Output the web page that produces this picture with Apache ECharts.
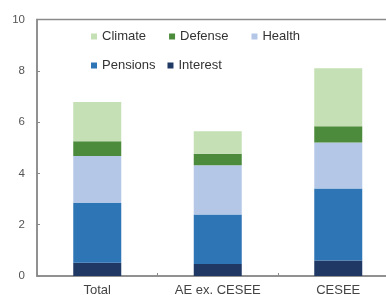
<!DOCTYPE html>
<html><head><meta charset="utf-8">
<script src="https://cdn.jsdelivr.net/npm/echarts@6/dist/echarts.min.js"></script>
<style>html,body{margin:0;padding:0;background:#fff}#c{width:386px;height:295px}</style>
</head><body><div id="c"></div>
<script>
const categories = ['Total', 'AE ex. CESEE', 'CESEE'];
const interest = [0.52, 0.47, 0.60];
const pensions = [2.33, 1.93, 2.81];
const health = [1.83, 1.92, 1.79];
const defense = [0.57, 0.45, 0.64];
const climate = [1.53, 0.87, 2.26];
const yTicks = [0, 2, 4, 6, 8, 10];

const chart = echarts.init(document.getElementById('c'));
const mk = (name, data, color) => ({name, type: 'bar', stack: 'a', data, barWidth: 48, itemStyle: {color}});
const lt = {fontSize: 13, color: '#333', fontFamily: 'Liberation Sans'};
chart.setOption({
  animation: false,
  grid: {left: 37, top: 19.5, bottom: 19, width: 361.5, outerBoundsMode: 'none', containLabel: false,
    show: true, borderColor: '#8a8a8a', borderWidth: 1.5},
  legend: [
    {data: ['Climate', 'Defense', 'Health'], left: 86, top: 25, itemWidth: 6, itemHeight: 6, itemGap: 23,
     icon: 'rect', textStyle: lt},
    {data: ['Pensions', 'Interest'], left: 86, top: 54, itemWidth: 6, itemHeight: 6, itemGap: 12,
     icon: 'rect', textStyle: lt}
  ],
  xAxis: {type: 'category', data: categories,
    axisLine: {lineStyle: {color: '#8a8a8a', width: 1.5}},
    axisTick: {show: true, inside: true, length: 3, lineStyle: {color: '#8a8a8a'}},
    axisLabel: {fontSize: 13, color: '#444', margin: 8, fontFamily: 'Liberation Sans'}},
  yAxis: {type: 'value', min: yTicks[0], max: yTicks[yTicks.length - 1], interval: 2,
    axisLine: {show: true, lineStyle: {color: '#8a8a8a', width: 1.5}},
    axisTick: {show: true, inside: true, length: 3, lineStyle: {color: '#8a8a8a'}},
    splitLine: {show: false},
    axisLabel: {fontSize: 11.5, color: '#555', margin: 12, fontFamily: 'Liberation Sans'}},
  series: [
    mk('Interest', interest, '#1f3864'),
    mk('Pensions', pensions, '#2e75b6'),
    mk('Health', health, '#b4c7e7'),
    mk('Defense', defense, '#4b8b3b'),
    mk('Climate', climate, '#c5e0b4')
  ]
});
</script></body></html>
